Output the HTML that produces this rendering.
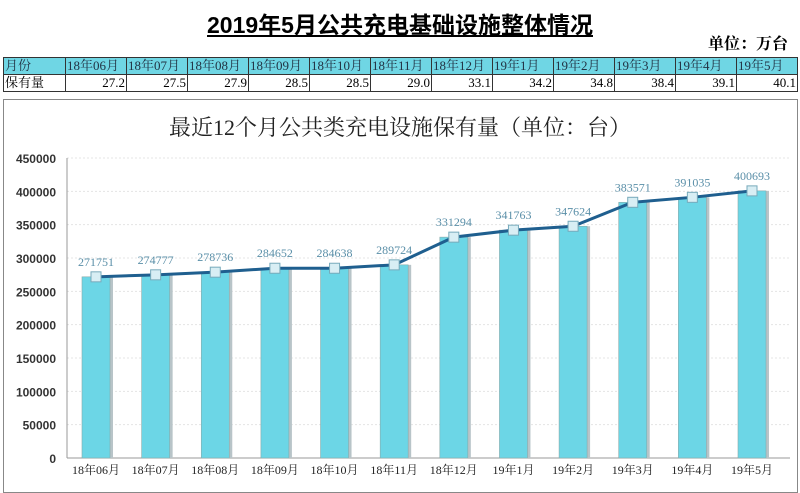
<!DOCTYPE html>
<html><head><meta charset="utf-8"><style>
body{margin:0;width:800px;height:493px;background:#fff;overflow:hidden;font-family:"Liberation Serif","Noto Serif CJK SC",serif;position:relative}
.t{position:absolute;left:0;width:800px;top:6px;text-align:center;font:bold 23px "Liberation Sans","Noto Sans CJK SC",sans-serif;}
.t span{text-decoration:underline}
.u{position:absolute;right:12px;top:31px;font:bold 16px "Liberation Serif","Noto Serif CJK SC",serif}
table{position:absolute;left:3px;top:57px;width:795px;border-collapse:collapse;font-size:13px;table-layout:fixed}
td{border:1px solid #333;height:16px;padding:0 1px;line-height:16px}
tr.h td{background:#6fd6e4;color:#234}
tr.v td{text-align:right}
tr td:first-child{text-align:left;width:59px}
.box{position:absolute;left:3px;top:99px;width:793px;height:392px;border:1px solid #888}
</style></head><body>
<div class="t"><span>2019年5月公共充电基础设施整体情况</span></div>
<div class="u">单位：万台</div>
<table>
<tr class="h"><td>月份</td><td>18年06月</td><td>18年07月</td><td>18年08月</td><td>18年09月</td><td>18年10月</td><td>18年11月</td><td>18年12月</td><td>19年1月</td><td>19年2月</td><td>19年3月</td><td>19年4月</td><td>19年5月</td></tr>
<tr class="v"><td>保有量</td><td>27.2</td><td>27.5</td><td>27.9</td><td>28.5</td><td>28.5</td><td>29.0</td><td>33.1</td><td>34.2</td><td>34.8</td><td>38.4</td><td>39.1</td><td>40.1</td></tr>
</table>
<div class="box"></div>
<svg id="c" width="800" height="493" style="position:absolute;left:0;top:0"></svg>
<script>
const categories=["18年06月","18年07月","18年08月","18年09月","18年10月","18年11月","18年12月","19年1月","19年2月","19年3月","19年4月","19年5月"];
const values=[271751,274777,278736,284652,284638,289724,331294,341763,347624,383571,391035,400693];
const ticks=[0,50000,100000,150000,200000,250000,300000,350000,400000,450000];
const NS="http://www.w3.org/2000/svg",svg=document.getElementById('c');
const x0=67,y0=458,yMax=450000,ph=300,first=96,last=752;
const step=(last-first)/(categories.length-1);
const y=v=>y0-v/yMax*ph, x=i=>first+i*step;
function mk(t,a,p){const e=document.createElementNS(NS,t);for(const k in a)e.setAttribute(k,a[k]);(p||svg).appendChild(e);return e;}
const tt=mk('text',{x:400,y:135,'text-anchor':'middle','font-size':22,fill:'#222','font-family':'"Liberation Serif","Noto Serif CJK SC",serif'});
tt.textContent='最近12个月公共类充电设施保有量（单位：台）';


ticks.forEach(v=>{
 if(v>0){const g=mk('line',{x1:x0,x2:790,y1:y(v),y2:y(v),stroke:'#e4e4e4','stroke-dasharray':'2,2'});
 
 }
 const t=mk('text',{x:56,y:y(v)+5,'text-anchor':'end','font-size':12,'font-weight':'bold',fill:'#333','font-family':'"Liberation Sans",sans-serif'});
 t.textContent=v;
 
 
});
const ax=mk('line',{x1:x0,x2:x0,y1:y0-300,y2:y0,stroke:'#999'});


const bx=mk('line',{x1:x0,x2:790,y1:y0,y2:y0,stroke:'#999'});


values.forEach((v,i)=>{
 const s=mk('rect',{x:x(i)-13,y:y(v),width:30,height:y0-y(v),fill:'#b8c4c8'});
 
 
 const b=mk('rect',{x:x(i)-14,y:y(v),width:28,height:y0-y(v),fill:'#6cd6e6',stroke:'#8aa',"stroke-width":0.6});
 
 
 const l=mk('text',{x:x(i),y:474,'text-anchor':'middle','font-size':12,fill:'#222','font-family':'"Liberation Serif","Noto Serif CJK SC",serif'});
 l.textContent=categories[i];
 
 
});
const ln=mk('polyline',{points:values.map((v,i)=>x(i)+','+y(v)).join(' '),fill:'none',stroke:'#1f5f8f','stroke-width':3});


values.forEach((v,i)=>{
 const m=mk('rect',{x:x(i)-5,y:y(v)-5,width:10,height:10,fill:'#d8eef4',stroke:'#7ab'});
 
 
 const t=mk('text',{x:x(i),y:y(v)-11,'text-anchor':'middle','font-size':12,fill:'#5a8fa8','font-family':'"Liberation Serif",serif'});
 t.textContent=v;
 
 
});
</script>
</body></html>
